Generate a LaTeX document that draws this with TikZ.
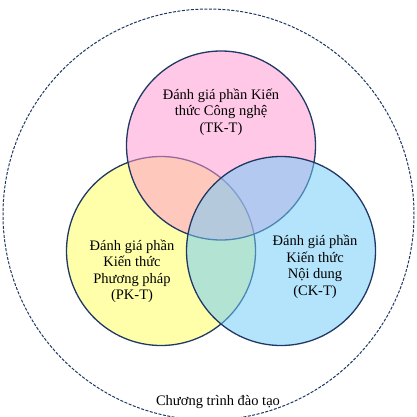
\documentclass[tikz,border=0pt]{standalone}
\usepackage{fontspec}
\setmainfont{Liberation Serif}
\definecolor{edgec}{RGB}{31,56,100}
\definecolor{pinkc}{RGB}{255,151,208}
\definecolor{yellowc}{RGB}{255,255,95}
\definecolor{bluec}{RGB}{113,204,249}
\begin{document}
\begin{tikzpicture}[x=1pt,y=-1pt,
  setcircle/.style={draw=edgec,line width=1.3pt,fill opacity=0.53},
  lbl/.style={align=center,font=\fontsize{14.5}{16.5}\selectfont,inner sep=0pt,text=black}]
\useasboundingbox (0,0) rectangle (416,417);
\draw[edgec, line width=1pt, dash pattern=on 3pt off 1.5pt] (208.5,214.5) circle[radius=205.5pt];
\draw[setcircle, fill=yellowc] (161,251) circle[radius=94.5pt];
\draw[setcircle, fill=pinkc] (221,145.5) circle[radius=94.5pt];
\draw[setcircle, fill=bluec] (281,251) circle[radius=94.5pt];
\node[lbl] (tk) at (221,112) {Đánh giá phần Kiến\\thức Công nghệ\\(TK-T)};
\node[lbl] (pk) at (132,271.5) {Đánh giá phần\\Kiến thức\\Phương pháp\\(PK-T)};
\node[lbl] (ck) at (315,267) {Đánh giá phần\\Kiến thức\\Nội dung\\(CK-T)};
\node[lbl] (ct) at (218,402) {Chương trình đào tạo};
\end{tikzpicture}
\end{document}
